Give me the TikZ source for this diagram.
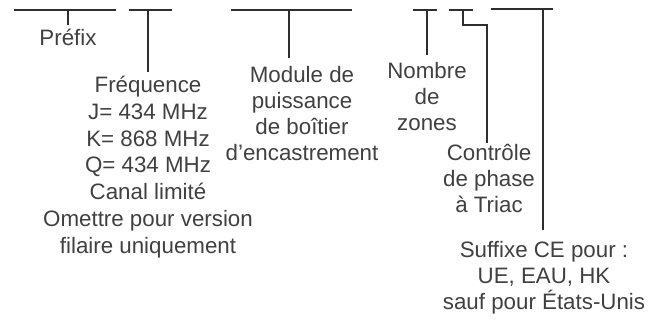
\documentclass[tikz,border=0pt]{standalone}
\usepackage{fontspec}
\setmainfont{Liberation Sans}
\usepackage{tikz}
\usetikzlibrary{positioning}
\definecolor{txtgray}{HTML}{404040}
\definecolor{linegray}{HTML}{2E2E2E}

\begin{document}
\begin{tikzpicture}[scale=0.2]
\tikzstyle{every node}+=[inner sep=0pt]
\tikzstyle{lbl}=[anchor=north, align=center, text=txtgray, font=\fontsize{12.7}{14.8}\selectfont]
\tikzstyle{bar}=[linegray, line width=0.6pt]
\useasboundingbox (0,0) rectangle (65.8,-32);
\coordinate (b1l) at (1.4,-1.0);
\coordinate (b1r) at (11.6,-1.0);
\coordinate (t1) at (6.8,-1.0);
\coordinate (f1) at (6.8,-2.5);
\coordinate (b2l) at (12.9,-1.0);
\coordinate (b2r) at (17.2,-1.0);
\coordinate (t2) at (14.8,-1.0);
\coordinate (f2) at (14.8,-7.2);
\coordinate (b3l) at (23.1,-1.0);
\coordinate (b3r) at (35.2,-1.0);
\coordinate (t3) at (28.9,-1.0);
\coordinate (f3) at (28.9,-5.8);
\coordinate (b4l) at (41.3,-1.0);
\coordinate (b4r) at (43.7,-1.0);
\coordinate (t4) at (42.7,-1.0);
\coordinate (f4) at (42.7,-5.5);
\coordinate (b5l) at (44.9,-1.0);
\coordinate (b5r) at (47.3,-1.0);
\coordinate (t5) at (46.3,-1.0);
\coordinate (k5) at (46.3,-2.5);
\coordinate (j5) at (48.7,-2.5);
\coordinate (f5) at (48.7,-14.3);
\coordinate (b6l) at (49.1,-0.9);
\coordinate (b6r) at (55.3,-0.9);
\coordinate (t6) at (54.3,-0.9);
\coordinate (f6) at (54.3,-23.0);
\node [lbl] (pfx) at (6.8,-2.85) {Préfix};
\node [lbl, font=\fontsize{12.7}{15.2}\selectfont] (freq) at (14.8,-7.6) {Fréquence\\J= 434 MHz\\K= 868 MHz\\Q= 434 MHz\\Canal limité\\Omettre pour version\\filaire uniquement};
\node [lbl] (mod) at (30.2,-6.6) {Module de\\puissance\\de boîtier\\d’encastrement};
\node [lbl] (zones) at (42.7,-6.2) {Nombre\\de\\zones};
\node [lbl] (triac) at (48.9,-14.4) {Contrôle\\de phase\\à Triac};
\node [lbl] (sfx) at (54.4,-24.1) {Suffixe CE pour :\\UE, EAU, HK\\sauf pour États-Unis};
\draw [bar] (b1l) -- (b1r);
\draw [bar] (t1) -- (f1);
\draw [bar] (b2l) -- (b2r);
\draw [bar] (t2) -- (f2);
\draw [bar] (b3l) -- (b3r);
\draw [bar] (t3) -- (f3);
\draw [bar] (b4l) -- (b4r);
\draw [bar] (t4) -- (f4);
\draw [bar] (b5l) -- (b5r);
\draw [bar] (t5) -- (k5) -- (j5) -- (f5);
\draw [bar] (b6l) -- (b6r);
\draw [bar] (t6) -- (f6);
\end{tikzpicture}
\end{document}
